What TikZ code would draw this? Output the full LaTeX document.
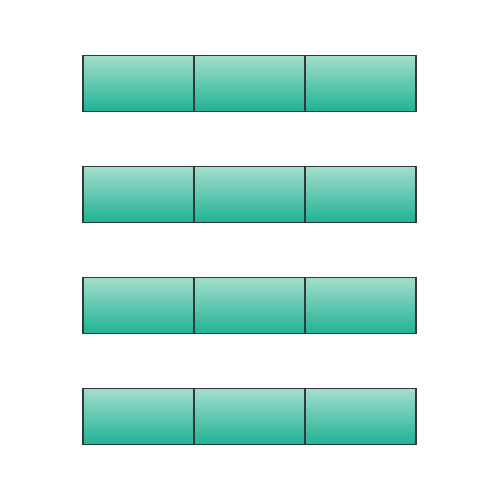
\documentclass[tikz,border=0pt]{standalone}
\usetikzlibrary{shadings}
\definecolor{gtop}{HTML}{A4DDCD}
\definecolor{gmid}{HTML}{52C1A8}
\definecolor{gbot}{HTML}{1EB394}
\definecolor{edge}{HTML}{2F3B38}
\begin{document}
\begin{tikzpicture}[x=0.02cm,y=-0.02cm,
  cell/.style={draw=edge,line width=0.6pt,minimum width=2.22cm,minimum height=1.12cm,
    inner sep=0pt,outer sep=0pt,top color=gtop,middle color=gmid,bottom color=gbot}]
\useasboundingbox (0,0) rectangle (500,500);
\foreach \r/\y in {1/83.5,2/194.5,3/305.5,4/416.5}{
  \foreach \c/\x in {1/138.5,2/249.5,3/360.5}{
    \node[cell] (b\r\c) at (\x,\y) {};
  }
}
\end{tikzpicture}
\end{document}
